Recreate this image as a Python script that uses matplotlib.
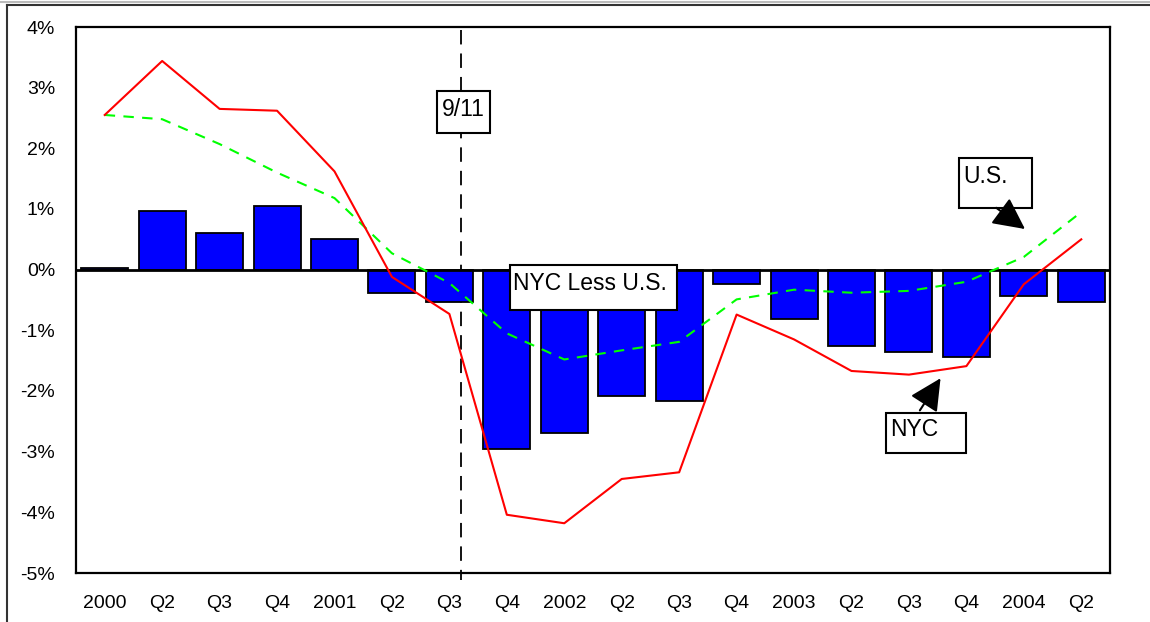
import numpy as np
import matplotlib
matplotlib.use("Agg")
import matplotlib.pyplot as plt
from matplotlib.patches import Rectangle
from matplotlib.lines import Line2D

plt.rcParams['font.family'] = ['Liberation Sans', 'DejaVu Sans']

# quarterly labels, 2000 Q1 .. 2004 Q2
labels = ["2000", "Q2", "Q3", "Q4", "2001", "Q2", "Q3", "Q4", "2002", "Q2",
          "Q3", "Q4", "2003", "Q2", "Q3", "Q4", "2004", "Q2"]
# employment growth, %
nyc_less_us = [0.03, 0.96, 0.61, 1.05, 0.50, -0.38, -0.54, -2.96, -2.69, -2.08,
               -2.17, -0.24, -0.82, -1.26, -1.35, -1.44, -0.44, -0.54]
nyc = [2.55, 3.44, 2.65, 2.62, 1.62, -0.12, -0.73, -4.04, -4.18, -3.45,
       -3.34, -0.74, -1.15, -1.67, -1.73, -1.59, -0.24, 0.50]
us = [2.55, 2.48, 2.07, 1.60, 1.18, 0.27, -0.22, -1.05, -1.48, -1.33,
      -1.19, -0.49, -0.33, -0.38, -0.35, -0.20, 0.21, 0.95]
sept11 = 6.21  # position of 9/11 within Q3 2001

fig = plt.figure(figsize=(11.5, 6.22), dpi=100)
ax = fig.add_axes([76/1150, 1 - 573/622, (1110 - 76)/1150, (573 - 27)/622])

x = np.arange(len(labels))

# 9/11 marker line, behind the bars
ax.plot([sept11, sept11], [3.95, -5.12], color='black', lw=1.3,
        dashes=(8, 5), zorder=1, clip_on=False)

ax.bar(x, nyc_less_us, width=0.82, color='#0000FF', edgecolor='black',
       linewidth=1.3, zorder=2)
ax.axhline(0, color='black', lw=2, zorder=3)

ax.plot(x, us, color='#00FF00', lw=1.5, dashes=(5, 4), zorder=4)
ax.plot(x, nyc, color='#FF0000', lw=1.5, zorder=5)

ax.set_xlim(-0.5, len(labels) - 0.5)
ax.set_ylim(-5, 4)
ax.set_yticks(range(-5, 5))
ax.set_yticklabels([f"{v}%" for v in range(-5, 5)])
ax.set_xticks(x)
ax.set_xticklabels(labels)
ax.tick_params(axis='both', length=0, labelsize=14)
ax.tick_params(axis='y', pad=15)
ax.tick_params(axis='x', pad=16)
for s in ax.spines.values():
    s.set_linewidth(1.6)
    s.set_color('black')


def text_box(x0, x1, y0, y1, tx, ty, txt, ha='left'):
    ax.add_patch(Rectangle((x0, y1), x1 - x0, y0 - y1, facecolor='white',
                           edgecolor='black', lw=1.5, zorder=6))
    ax.text(tx, ty, txt, fontsize=16.5, ha=ha, va='center', zorder=7)


text_box(5.78, 6.71, 2.95, 2.25, 6.24, 2.64, "9/11", ha='center')
text_box(7.06, 9.96, 0.08, -0.66, 7.11, -0.23, "NYC Less U.S.")
text_box(14.87, 16.14, 1.84, 1.02, 14.94, 1.53, "U.S.")
text_box(13.60, 14.99, -2.37, -3.02, 13.68, -2.64, "NYC")

arrow = dict(arrowstyle='-|>,head_length=0.7,head_width=0.35', color='black',
             lw=1.5, mutation_scale=28, shrinkA=0, shrinkB=0)
ax.annotate("", xy=(16.02, 0.67), xytext=(15.52, 1.02), arrowprops=arrow,
            zorder=8)
ax.annotate("", xy=(14.55, -1.79), xytext=(14.19, -2.32), arrowprops=arrow,
            zorder=8)

# outer frame of the original screenshot
fig.add_artist(Line2D([0, 1], [1 - 2/622, 1 - 2/622], color='#bbbbbb', lw=1.5))
fig.add_artist(Line2D([7/1150, 1], [1 - 5/622, 1 - 5/622], color='#333333', lw=1.5))
fig.add_artist(Line2D([7/1150, 7/1150], [0, 1 - 5/622], color='#333333', lw=1.5))

fig.savefig('out.png', dpi=100, facecolor='white')
